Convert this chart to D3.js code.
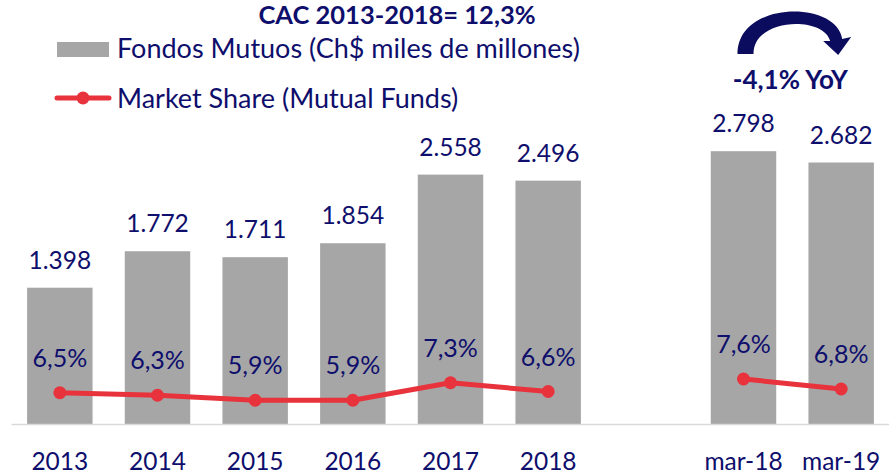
<!DOCTYPE html>
<html>
<head>
<meta charset="utf-8">
<script src="https://cdn.jsdelivr.net/npm/d3@7"></script>
<style>
  html, body { margin: 0; padding: 0; background: #ffffff; }
  svg { display: block; }
  text { font-family: Lato, "Noto Sans", sans-serif; }
</style>
</head>
<body>
<svg id="chart" width="889" height="476"></svg>
<script>
// Fondos Mutuos: assets under management and market share
const categories   = ["2013", "2014", "2015", "2016", "2017", "2018", "mar-18", "mar-19"];
const fundValues   = [1398, 1772, 1711, 1854, 2558, 2496, 2798, 2682];   // Ch$ miles de millones
const shareValues  = [6.5, 6.3, 5.9, 5.9, 7.3, 6.6, 7.6, 6.8];           // %
const annualGroup  = ["2013", "2014", "2015", "2016", "2017", "2018"];
const quarterGroup = ["mar-18", "mar-19"];
const titleText    = "CAC 2013-2018= 12,3%";
const yoyText      = "-4,1% YoY";
const legendLabels = ["Fondos Mutuos (Ch$ miles de millones)", "Market Share (Mutual Funds)"];

const NAVY = "#0e0e6c";
const GRAY = "#a6a6a6";
const RED  = "#e8333d";

const W = 889, H = 476;
const baseY = 424;
const svg = d3.select("#chart");

const locale = d3.formatLocale({ decimal: ",", thousands: ".", grouping: [3], currency: ["$", ""] });
const fmtValue = locale.format(",d");
const fmtShare = v => locale.format(".1f")(v) + "%";

// a blank slot separates the annual bars from the March comparison
const GAP = " ";
const domain = [...annualGroup, GAP, ...quarterGroup];

const x = d3.scaleBand()
  .domain(domain)
  .range([11, 890])
  .paddingInner(0.33)
  .paddingOuter(0.165);

const y = d3.scaleLinear().domain([0, 3000]).range([baseY, baseY - 3 * 97.5]);
const y2 = d3.scaleLinear().domain([4, 8]).range([baseY, baseY - 4 * 12.5]);

const data = categories.map((c, i) => ({ cat: c, value: fundValues[i], share: shareValues[i] }));
const cx = d => x(d.cat) + x.bandwidth() / 2;

// bars
svg.append("g").selectAll("rect")
  .data(data)
  .join("rect")
  .attr("x", d => x(d.cat))
  .attr("y", d => y(d.value))
  .attr("width", x.bandwidth())
  .attr("height", d => y(0) - y(d.value))
  .attr("fill", GRAY);

// category axis
const axis = svg.append("g")
  .attr("transform", `translate(0,${baseY})`)
  .call(d3.axisBottom(x).tickSize(0).tickSizeOuter(0));
axis.select(".domain").attr("stroke", "#d9d9d9").attr("stroke-width", 1.5);
axis.selectAll(".tick").filter(d => d === GAP).remove();
axis.selectAll(".tick text")
  .attr("y", 46).attr("dy", null)
  .attr("fill", NAVY)
  .style("font-family", "Lato, sans-serif")
  .style("font-size", "24.5px");

// bar value labels
svg.append("g").selectAll("text")
  .data(data)
  .join("text")
  .attr("x", cx)
  .attr("y", d => y(d.value) - 19)
  .attr("text-anchor", "middle")
  .attr("fill", NAVY)
  .style("font-size", "24.5px")
  .text(d => fmtValue(d.value));

// market share lines (annual and March separately)
const line = d3.line().x(cx).y(d => y2(d.share));
[annualGroup, quarterGroup].forEach(group => {
  const pts = data.filter(d => group.includes(d.cat));
  svg.append("path")
    .datum(pts)
    .attr("d", line)
    .attr("fill", "none")
    .attr("stroke", RED)
    .attr("stroke-width", 5)
    .attr("stroke-linejoin", "round");
});
svg.append("g").selectAll("circle")
  .data(data)
  .join("circle")
  .attr("cx", cx)
  .attr("cy", d => y2(d.share))
  .attr("r", 6.5)
  .attr("fill", RED);

// share labels
svg.append("g").selectAll("text")
  .data(data)
  .join("text")
  .attr("x", cx)
  .attr("y", d => y2(d.share) - 26)
  .attr("text-anchor", "middle")
  .attr("fill", NAVY)
  .style("font-size", "25px")
  .text(d => fmtShare(d.share));

// title
svg.append("text")
  .attr("x", 397).attr("y", 24)
  .attr("text-anchor", "middle")
  .attr("fill", NAVY)
  .style("font-weight", "bold")
  .style("font-size", "25.5px")
  .text(titleText);

// legend
const lg = svg.append("g");
lg.append("rect").attr("x", 57).attr("y", 42).attr("width", 52).attr("height", 15).attr("fill", GRAY);
lg.append("text").attr("x", 117).attr("y", 58).attr("fill", NAVY).style("font-size", "27px").text(legendLabels[0]);
lg.append("line").attr("x1", 57).attr("x2", 109).attr("y1", 98).attr("y2", 98)
  .attr("stroke", RED).attr("stroke-width", 5).attr("stroke-linecap", "round");
lg.append("circle").attr("cx", 83).attr("cy", 98).attr("r", 6.5).attr("fill", RED);
lg.append("text").attr("x", 117).attr("y", 107.5).attr("fill", NAVY).style("font-size", "27px").text(legendLabels[1]);

// year-over-year curved arrow between the March bars
const xa = x("mar-18") + x.bandwidth() / 2;
const xb = x("mar-19") + x.bandwidth() / 2;
const mx = (xa + xb) / 2;
const legY = 54;
const arrow = d3.path();
arrow.moveTo(xa - 6, legY);
arrow.bezierCurveTo(xa - 6, 0, xb - 4, 0, xb + 1, 39);
arrow.lineTo(xb + 10, 37);
arrow.lineTo(xb - 3, 55);
arrow.lineTo(xb - 18, 41);
arrow.lineTo(xb - 11, 41);
arrow.bezierCurveTo(xb - 17, 16, xa + 10, 17, xa + 10, legY);
arrow.closePath();
svg.append("path").attr("d", arrow.toString()).attr("fill", "#0c0c5e");

svg.append("text")
  .attr("x", mx - 2).attr("y", 89)
  .attr("text-anchor", "middle")
  .attr("fill", NAVY)
  .style("font-weight", "bold")
  .style("font-size", "26px")
  .text(yoyText);
</script>
</body>
</html>
